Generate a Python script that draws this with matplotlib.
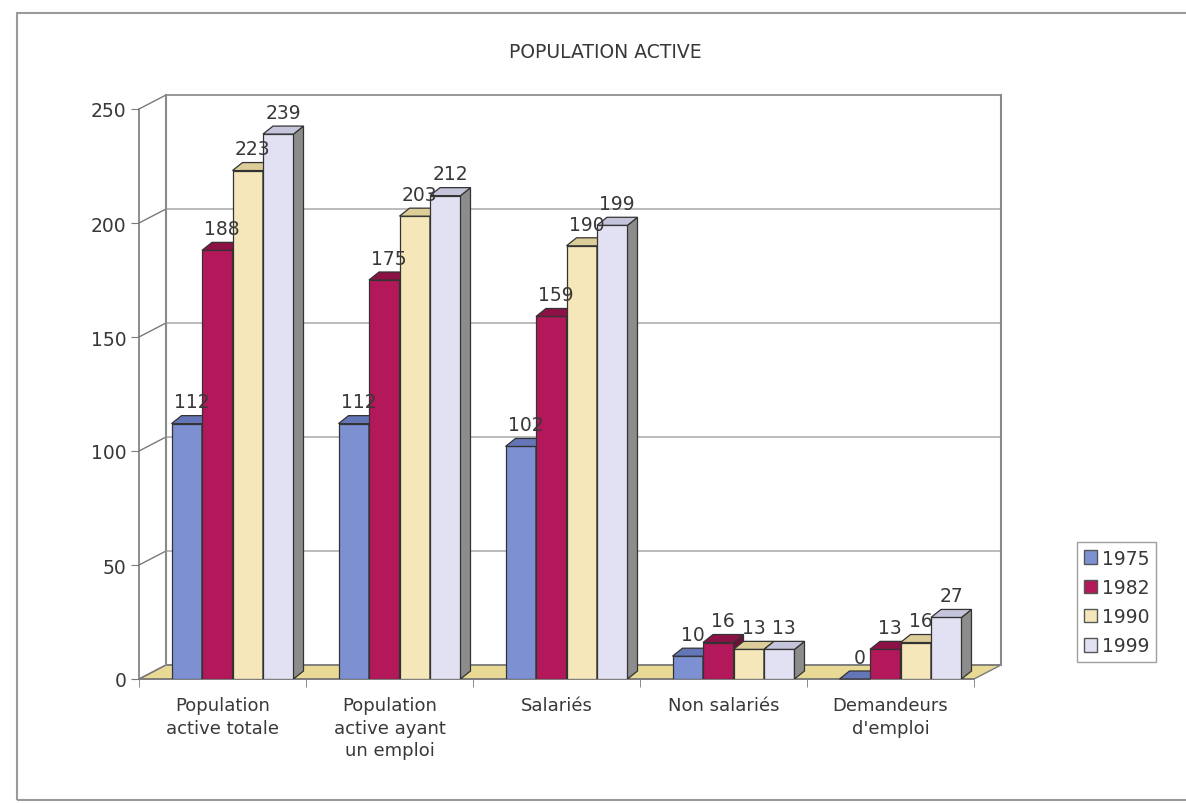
import matplotlib.pyplot as plt
from matplotlib.patches import Polygon, Patch, Rectangle

categories = ["Population\nactive totale", "Population\nactive ayant\nun emploi",
              "Salariés", "Non salariés", "Demandeurs\nd'emploi"]
years = ["1975", "1982", "1990", "1999"]
v1975 = [112, 112, 102, 10, 0]
v1982 = [188, 175, 159, 16, 13]
v1990 = [223, 203, 190, 13, 16]
v1999 = [239, 212, 199, 13, 27]
series = [v1975, v1982, v1990, v1999]

front_colors = ['#7d90d2', '#b3185a', '#f6e7bb', '#e1e1f3']
top_colors = ['#6476b8', '#8c1246', '#ddcd98', '#c4c4da']
side_colors = ['#4f5f9a', '#6e0f38', '#b3a273', '#8c8c8c']
edge = '#333333'
text_c = '#383838'
line_c = '#7a7a7a'
grid_c = '#a8a8a8'

W, H = 1186, 804
fig = plt.figure(figsize=(W / 100, H / 100), dpi=100)
plt.rcParams['font.family'] = 'DejaVu Sans'

ax_l, ax_b, ax_w, ax_h = 139, 124, 835, 570
ax = fig.add_axes([ax_l / W, ax_b / H, ax_w / W, ax_h / H])
ax.set_xlim(-0.5, 4.5)
ax.set_ylim(0, 250)

# pixel -> data conversion for the fake depth
ux = ax_w / 5.0
uy = ax_h / 250.0
wall_dx, wall_dy = 27 / ux, 14 / uy
bar_dx, bar_dy = 10 / ux, 8 / uy
bar_w = 30.5 / ux
shift = 10 / ux

# floor
floor = Polygon([(-0.5, 0), (4.5, 0), (4.5 + wall_dx, wall_dy), (-0.5 + wall_dx, wall_dy)],
                closed=True, facecolor='#e8da94', edgecolor=line_c, lw=1, zorder=1, clip_on=False)
ax.add_patch(floor)

# back wall with gridlines
yt = [0, 50, 100, 150, 200, 250]
for v in yt:
    c = line_c if v in (0, 250) else grid_c
    ax.plot([-0.5 + wall_dx, 4.5 + wall_dx], [v + wall_dy] * 2, color=c, lw=1.1,
            zorder=1, clip_on=False)
    ax.plot([-0.5, -0.5 + wall_dx], [v, v + wall_dy], color=line_c, lw=1, zorder=1, clip_on=False)
for xe in (-0.5 + wall_dx, 4.5 + wall_dx):
    ax.plot([xe, xe], [wall_dy, 250 + wall_dy], color='#8a8a8a', lw=1.5, zorder=1, clip_on=False)

# bars, drawn left to right so each front face hides the previous side face
for i in range(len(categories)):
    for j, vals in enumerate(series):
        h = vals[i]
        x0 = i - 2 * bar_w + j * bar_w + shift
        x1 = x0 + bar_w
        ax.bar(x0, h, width=bar_w, align='edge', color=front_colors[j],
               edgecolor=edge, lw=0.9, zorder=3)
        side = Polygon([(x1, 0), (x1 + bar_dx, bar_dy), (x1 + bar_dx, h + bar_dy), (x1, h)],
                       closed=True, facecolor=side_colors[j], edgecolor=edge, lw=0.9, zorder=3)
        top = Polygon([(x0, h), (x1, h), (x1 + bar_dx, h + bar_dy), (x0 + bar_dx, h + bar_dy)],
                      closed=True, facecolor=top_colors[j], edgecolor=edge, lw=0.9, zorder=3,
                      clip_on=False)
        ax.add_patch(side)
        ax.add_patch(top)
        ax.annotate(str(h), xy=(x0 + bar_w / 2 + bar_dx / 2, h + bar_dy), xytext=(0, 3),
                    textcoords='offset points', ha='center', va='bottom',
                    fontsize=13.5, color=text_c, zorder=5, annotation_clip=False)

# axes styling
for s in ('top', 'right'):
    ax.spines[s].set_visible(False)
for s in ('left', 'bottom'):
    ax.spines[s].set_color(line_c)
    ax.spines[s].set_linewidth(1.2)
    ax.spines[s].set_zorder(2)
ax.set_facecolor('none')
ax.set_yticks(yt)
ax.tick_params(axis='y', direction='out', length=6, color=line_c, labelsize=13.5,
               labelcolor=text_c, pad=3)
ax.set_xticks(range(len(categories)))
ax.set_xticklabels(categories, linespacing=1.35)
ax.set_xticks([k + 0.5 for k in range(-1, 5)], minor=True)
ax.tick_params(axis='x', which='major', length=0, labelsize=13, labelcolor=text_c, pad=12)
ax.tick_params(axis='x', which='minor', direction='out', length=6, color=line_c)

fig.text(605 / W, 1 - 53 / H, 'POPULATION ACTIVE', ha='center', va='center',
         fontsize=13.5, color=text_c)

handles = [Patch(facecolor=c, edgecolor='#555555', lw=1) for c in front_colors]
leg = fig.legend(handles, years, loc='upper left', bbox_to_anchor=(1077 / W, 1 - 543 / H),
                 frameon=True, fancybox=False, edgecolor='#888888', fontsize=13.5,
                 handlelength=0.7, handleheight=0.7, handletextpad=0.3,
                 labelspacing=0.55, borderpad=0.35, borderaxespad=0)
for t in leg.get_texts():
    t.set_color(text_c)

# outer chart frame
fig.patches.append(Rectangle((17 / W, 3 / H), 1.2, (H - 14 - 3) / H, transform=fig.transFigure,
                             fill=False, edgecolor='#9a9a9a', lw=1.5))

fig.savefig('out.png', dpi=100)
